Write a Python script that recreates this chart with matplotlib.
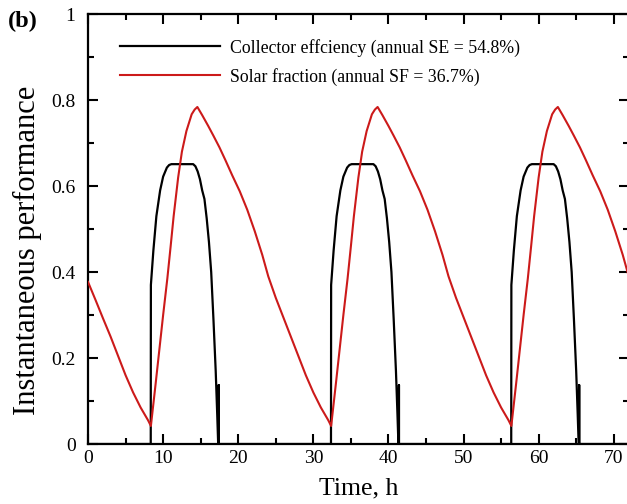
import matplotlib
matplotlib.use('Agg')
import matplotlib.pyplot as plt
from matplotlib.ticker import MultipleLocator, FuncFormatter

# Solar fraction (red)
sf_time = [0, 1, 2, 3, 4, 5, 6, 7, 8, 8.37, 9, 10, 10.56, 11, 11.4, 12, 12.5, 13.1, 13.8, 14.2,
           14.56, 15.2, 16, 16.7, 17.5, 18.3, 19.2, 20.2, 21.2, 22.2, 23.2,
           24, 25, 26, 27, 28, 29, 30, 31, 32, 32.37, 33, 34, 34.56, 35, 35.4, 36, 36.5, 37.1, 37.8, 38.2,
           38.56, 39.2, 40, 40.7, 41.5, 42.3, 43.2, 44.2, 45.2, 46.2, 47.2,
           48, 49, 50, 51, 52, 53, 54, 55, 56, 56.37, 57, 58, 58.56, 59, 59.4, 60, 60.5, 61.1, 61.8, 62.2,
           62.56, 63.2, 64, 64.7, 65.5, 66.3, 67.2, 68.2, 69.2, 70.2, 71.2, 72]
sf_value = [0.377, 0.335, 0.292, 0.25, 0.205, 0.16, 0.12, 0.085, 0.055, 0.042, 0.14, 0.30, 0.385, 0.46, 0.53,
            0.62, 0.68, 0.728, 0.767, 0.778, 0.784, 0.765, 0.74, 0.717, 0.69, 0.66, 0.625, 0.588, 0.545, 0.495, 0.44,
            0.39, 0.34, 0.295, 0.25, 0.205, 0.16, 0.12, 0.085, 0.055, 0.042, 0.14, 0.30, 0.385, 0.46, 0.53,
            0.62, 0.68, 0.728, 0.767, 0.778, 0.784, 0.765, 0.74, 0.717, 0.69, 0.66, 0.625, 0.588, 0.545, 0.495, 0.44,
            0.39, 0.34, 0.295, 0.25, 0.205, 0.16, 0.12, 0.085, 0.055, 0.042, 0.14, 0.30, 0.385, 0.46, 0.53,
            0.62, 0.68, 0.728, 0.767, 0.778, 0.784, 0.765, 0.74, 0.717, 0.69, 0.66, 0.625, 0.588, 0.545, 0.495, 0.44,
            0.39]

# Collector efficiency (black)
ce_time = [0, 8.35, 8.37, 8.7, 9.1, 9.6, 10.0, 10.5, 10.8, 11.1, 14.0, 14.3, 14.6, 14.9, 15.2, 15.5, 15.8,
           16.1, 16.4, 16.7, 17.0, 17.2, 17.33, 17.4, 17.4, 17.4,
           32.35, 32.37, 32.7, 33.1, 33.6, 34.0, 34.5, 34.8, 35.1, 38.0, 38.3, 38.6, 38.9, 39.2, 39.5, 39.8,
           40.1, 40.4, 40.7, 41.0, 41.2, 41.33, 41.4, 41.4, 41.4,
           56.35, 56.37, 56.7, 57.1, 57.6, 58.0, 58.5, 58.8, 59.1, 62.0, 62.3, 62.6, 62.9, 63.2, 63.5, 63.8,
           64.1, 64.4, 64.7, 65.0, 65.2, 65.33, 65.4, 65.4, 65.4, 72]
ce_value = [0, 0, 0.37, 0.45, 0.53, 0.59, 0.622, 0.643, 0.649, 0.651, 0.651, 0.646, 0.634, 0.616, 0.59, 0.57, 0.525,
            0.47, 0.40, 0.29, 0.17, 0.07, 0, 0, 0.137, 0,
            0, 0.37, 0.45, 0.53, 0.59, 0.622, 0.643, 0.649, 0.651, 0.651, 0.646, 0.634, 0.616, 0.59, 0.57, 0.525,
            0.47, 0.40, 0.29, 0.17, 0.07, 0, 0, 0.137, 0,
            0, 0.37, 0.45, 0.53, 0.59, 0.622, 0.643, 0.649, 0.651, 0.651, 0.646, 0.634, 0.616, 0.59, 0.57, 0.525,
            0.47, 0.40, 0.29, 0.17, 0.07, 0, 0, 0.137, 0, 0]

ce_label = 'Collector effciency (annual SE = 54.8%)'
sf_label = 'Solar fraction (annual SF = 36.7%)'

plt.rcParams['font.family'] = ['Liberation Serif', 'DejaVu Serif']

fig = plt.figure(figsize=(6.27, 5.04), dpi=100)
ax = fig.add_axes([0.1404, 0.119, 0.8624, 0.853])

ax.plot(ce_time, ce_value, color='black', lw=1.6, label=ce_label, zorder=3)
ax.plot(sf_time, sf_value, color='#cc1a1a', lw=1.5, label=sf_label, zorder=4)

ax.set_xlim(0, 72)
ax.set_ylim(0, 1)
ax.xaxis.set_major_locator(MultipleLocator(10))
ax.xaxis.set_minor_locator(MultipleLocator(5))
ax.yaxis.set_major_locator(MultipleLocator(0.2))
ax.yaxis.set_minor_locator(MultipleLocator(0.1))
ax.yaxis.set_major_formatter(FuncFormatter(lambda v, p: '%g' % round(v, 2)))

ax.tick_params(which='both', direction='in', top=True, right=True, width=1.5, labelsize=14)
ax.tick_params(axis='x', pad=4)
ax.tick_params(axis='y', pad=9)
ax.tick_params(which='major', length=7)
ax.tick_params(which='minor', length=4)
for s in ax.spines.values():
    s.set_linewidth(1.6)

ax.set_xlabel('Time, h', fontsize=18.5, labelpad=8)
ax.set_ylabel('Instantaneous performance', fontsize=22)
ax.yaxis.set_label_coords(-0.085, 0.45)

ax.legend(loc='upper left', bbox_to_anchor=(0.03, 0.98), frameon=False, fontsize=12.8,
          handlelength=5.6, handletextpad=0.6, labelspacing=0.62)

fig.text(0.012, 0.958, '(b)', fontsize=17.5, fontweight='bold', ha='left', va='center')

fig.savefig('out.png', dpi=100)
